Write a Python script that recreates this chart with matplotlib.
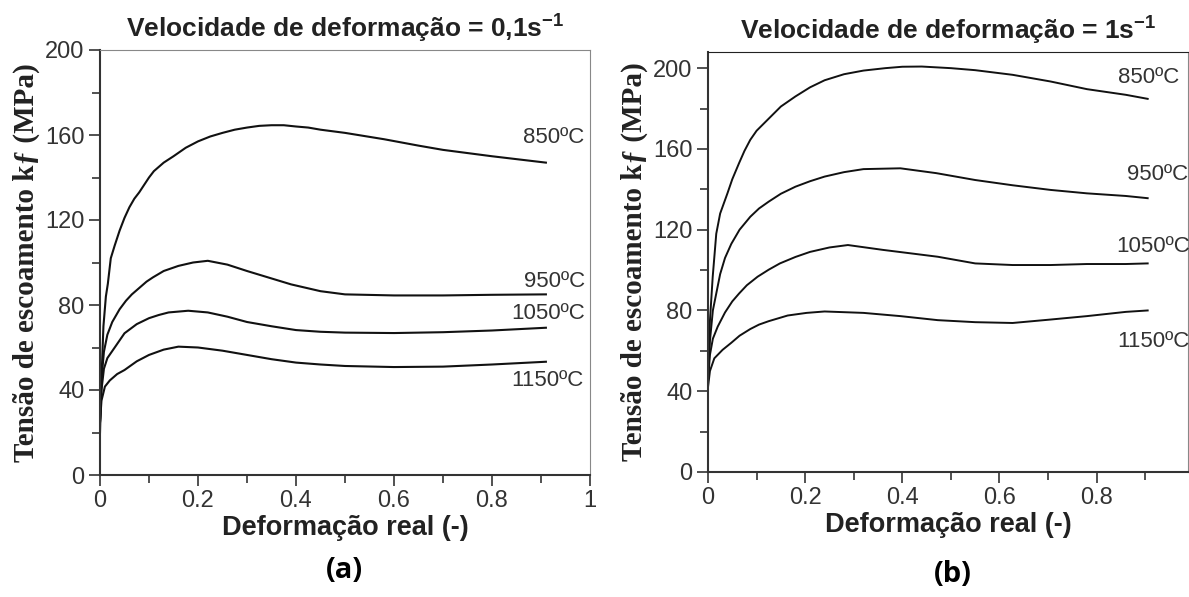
import matplotlib
matplotlib.use("Agg")
import matplotlib.pyplot as plt
from matplotlib.ticker import MultipleLocator

plt.rcParams["mathtext.fontset"] = "custom"
plt.rcParams["mathtext.rm"] = "Liberation Sans"
plt.rcParams["mathtext.bf"] = "Liberation Sans:bold"

# ---- dados (a) 0,1 s^-1 ----
temps = ["850ºC", "950ºC", "1050ºC", "1150ºC"]

eps_a_850 = [0, 0.003, 0.007, 0.012, 0.016, 0.022, 0.03, 0.04, 0.05, 0.06, 0.07, 0.08, 0.1,
             0.11, 0.13, 0.15, 0.175, 0.2, 0.225, 0.25, 0.275, 0.3, 0.325, 0.35, 0.375, 0.4,
             0.425, 0.45, 0.5, 0.58, 0.65, 0.7, 0.8, 0.91]
kf_a_850 = [20, 45, 70, 84, 90, 102, 108, 115, 121, 126, 130, 133, 140,
            143, 147, 150, 154, 157, 159.3, 161, 162.5, 163.5, 164.3, 164.6, 164.6, 164,
            163.5, 162.5, 161, 158, 155, 153, 150, 147]
eps_a_950 = [0, 0.003, 0.008, 0.015, 0.025, 0.04, 0.053, 0.065, 0.08, 0.095, 0.108, 0.13, 0.16,
             0.19, 0.22, 0.26, 0.3, 0.35, 0.39, 0.45, 0.5, 0.6, 0.7, 0.8, 0.91]
kf_a_950 = [25, 45, 58, 66, 72, 78, 82, 85, 88, 91, 93, 96, 98.4,
            100, 100.8, 99, 96, 92.5, 89.7, 86.5, 85, 84.5, 84.5, 84.8, 85]
eps_a_1050 = [0, 0.003, 0.008, 0.015, 0.03, 0.05, 0.075, 0.1, 0.12, 0.14, 0.18, 0.22, 0.26,
              0.3, 0.35, 0.4, 0.45, 0.5, 0.6, 0.7, 0.8, 0.91]
kf_a_1050 = [25, 40, 50, 55, 60, 66.7, 71, 73.8, 75.3, 76.5, 77.3, 76.5, 74.5,
             72, 70, 68.2, 67.4, 67, 66.8, 67.2, 68, 69.3]
eps_a_1150 = [0, 0.003, 0.01, 0.02, 0.035, 0.05, 0.075, 0.1, 0.13, 0.16, 0.2, 0.25, 0.3,
              0.35, 0.4, 0.45, 0.5, 0.6, 0.7, 0.8, 0.91]
kf_a_1150 = [25, 35, 41.6, 44.5, 47.5, 49.4, 53.5, 56.5, 59, 60.4, 60, 58.5, 56.5,
             54.5, 52.9, 52, 51.3, 50.8, 51, 52, 53.3]

# ---- dados (b) 1 s^-1 ----
eps_b_850 = [0, 0.004, 0.0097, 0.017, 0.025, 0.04, 0.05, 0.064, 0.075, 0.087, 0.1, 0.125, 0.15,
             0.18, 0.21, 0.24, 0.28, 0.32, 0.365, 0.4, 0.44, 0.5, 0.55, 0.627, 0.705, 0.78,
             0.86, 0.905]
kf_b_850 = [45, 75, 96.7, 118, 128, 138, 145, 153, 159, 164.5, 169, 175, 181,
            186, 190.5, 194, 197, 198.8, 200, 200.7, 200.8, 200, 199, 196.7, 193.4, 189.6,
            186.8, 184.8]
eps_b_950 = [0, 0.004, 0.01, 0.025, 0.035, 0.048, 0.065, 0.087, 0.105, 0.125, 0.15, 0.18, 0.21,
             0.24, 0.28, 0.32, 0.396, 0.47, 0.55, 0.627, 0.705, 0.78, 0.86, 0.905]
kf_b_950 = [45, 65, 80, 98, 106, 113, 120, 126.4, 130.5, 133.9, 137.8, 141.3, 144,
            146.3, 148.5, 150, 150.4, 148, 144.6, 142, 139.7, 138, 136.7, 135.6]
eps_b_1050 = [0, 0.004, 0.01, 0.02, 0.035, 0.05, 0.064, 0.08, 0.102, 0.125, 0.148, 0.18, 0.21,
              0.25, 0.288, 0.36, 0.42, 0.473, 0.55, 0.627, 0.705, 0.78, 0.86, 0.905]
kf_b_1050 = [45, 58, 66, 72, 79, 84.5, 88.4, 92.5, 96.7, 100.2, 103.3, 106.5, 109,
             111.2, 112.4, 110, 108.2, 106.6, 103.3, 102.5, 102.5, 103, 103, 103.3]
eps_b_1150 = [0, 0.004, 0.013, 0.03, 0.048, 0.065, 0.087, 0.105, 0.125, 0.164, 0.203, 0.24, 0.32,
              0.396, 0.473, 0.55, 0.627, 0.705, 0.78, 0.86, 0.905]
kf_b_1150 = [42, 50, 56.3, 60.5, 64, 67.5, 70.8, 73, 74.7, 77.5, 78.8, 79.5, 78.8,
             77.2, 75.2, 74.2, 73.8, 75.5, 77.2, 79.3, 80]

# posicao dos rotulos de temperatura (x, y)
lab_a = [(0.925, 159), (0.927, 91), (0.914, 76), (0.914, 44.7)]
lab_b = [(0.843, 195.6), (0.863, 147.4), (0.84, 111.8), (0.842, 64.6)]

W, H = 1189, 597
fig = plt.figure(figsize=(W / 100, H / 100), dpi=100)
fig.patch.set_facecolor("white")

def px(x0, y0, x1, y1):
    return [x0 / W, 1 - y1 / H, (x1 - x0) / W, (y1 - y0) / H]

ax_a = fig.add_axes(px(100, 50, 590, 475))
ax_b = fig.add_axes(px(708, 52, 1188, 472))

sans = "Liberation Sans"
serif = "Liberation Serif"
ylab = "Tensão de escoamento kƒ (MPa)"

def estilo(ax, xmax, ymax, title, grey_frame):
    ax.set_xlim(0, xmax)
    ax.set_ylim(0, ymax)
    ax.xaxis.set_minor_locator(MultipleLocator(0.1))
    ax.yaxis.set_major_locator(MultipleLocator(40))
    ax.yaxis.set_minor_locator(MultipleLocator(20))
    ax.set_xticks([0, 0.2, 0.4, 0.6, 0.8] + ([1.0] if xmax >= 1 else []))
    ax.set_xticklabels(["0", "0.2", "0.4", "0.6", "0.8"] + (["1"] if xmax >= 1 else []))
    ax.tick_params(which="major", direction="out", length=8, width=1.2,
                   labelsize=17, labelcolor="#333333", color="#333333", pad=3)
    ax.tick_params(which="minor", direction="out", length=6, width=1.2, color="#333333")
    for lab in ax.get_xticklabels() + ax.get_yticklabels():
        lab.set_family(sans)
    ax.spines["left"].set_color("#333333")
    ax.spines["bottom"].set_color("#333333")
    ax.spines["left"].set_linewidth(1.5)
    ax.spines["bottom"].set_linewidth(1.5)
    if grey_frame:
        ax.spines["top"].set_color("#888888")
        ax.spines["right"].set_color("#888888")
    else:
        ax.spines["top"].set_color("#222222")
        ax.spines["right"].set_color("#888888")
    ax.set_title(title, fontsize=19, fontweight="bold", family=sans, color="#222222", pad=10)
    ax.set_xlabel("Deformação real (-)", fontsize=19.5, fontweight="bold", family=sans,
                  color="#222222", labelpad=2)
    ax.set_ylabel(ylab, fontsize=21, fontweight="bold", family=serif, color="#222222",
                  labelpad=4)

estilo(ax_a, 1.0, 200, "Velocidade de deformação = 0,1s$^{\\mathbf{-1}}$", True)
estilo(ax_b, 0.988, 208, "Velocidade de deformação = 1s$^{\\mathbf{-1}}$", False)

curvas_a = [(eps_a_850, kf_a_850), (eps_a_950, kf_a_950),
            (eps_a_1050, kf_a_1050), (eps_a_1150, kf_a_1150)]
curvas_b = [(eps_b_850, kf_b_850), (eps_b_950, kf_b_950),
            (eps_b_1050, kf_b_1050), (eps_b_1150, kf_b_1150)]

for (x, y), t, (lx, ly) in zip(curvas_a, temps, lab_a):
    ax_a.plot(x, y, color="#111111", lw=1.5)
    ax_a.text(lx, ly, t, ha="center", va="center", fontsize=16, family=sans, color="#333333")

for (x, y), t, (lx, ly) in zip(curvas_b, temps, lab_b):
    ax_b.plot(x, y, color="#111111", lw=1.4)
    ax_b.text(lx, ly, t, ha="left", va="center", fontsize=16, family=sans, color="#333333",
              clip_on=False)

fig.text(344 / W, 1 - 570 / H, "(a)", ha="center", va="center", fontsize=21,
         fontweight="bold", family="Open Sans")
fig.text(953 / W, 1 - 575 / H, "(b)", ha="center", va="center", fontsize=21,
         fontweight="bold", family="Open Sans")

fig.savefig("out.png", dpi=100, facecolor="white")
